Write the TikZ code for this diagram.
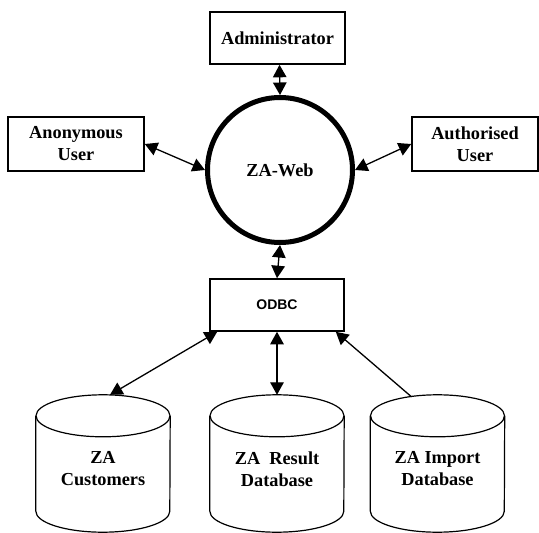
\documentclass[tikz,border=0pt]{standalone}
\usepackage{fontspec}
\setmainfont{Liberation Serif}
\newfontfamily\odbcfont{Liberation Sans}
\usetikzlibrary{arrows.meta,calc}

\tikzset{
  actor/.style={draw, rectangle, line width=1.6pt, inner sep=0pt, align=center,
    font=\fontsize{18.3}{22}\selectfont\bfseries},
  hub/.style={draw, circle, line width=5pt, minimum size=145pt, inner sep=0pt,
    font=\fontsize{18.3}{22}\selectfont\bfseries},
  store/.style={rectangle, inner sep=0pt, minimum width=134pt, minimum height=137pt},
  dblabel/.style={align=center, font=\fontsize{18.3}{22}\selectfont\bfseries},
  tip/.style={Triangle[length=12.5pt,width=13.5pt]},
  link/.style={line width=1.3pt, {Triangle[length=12.5pt,width=13.5pt]}-{Triangle[length=12.5pt,width=13.5pt]}},
  feed/.style={line width=1.3pt, -{Triangle[length=12.5pt,width=13.5pt]}},
  drum/.style={line width=1.2pt}
}

% outline of a database cylinder around a named store node
\newcommand{\drumoutline}[1]{%
  \draw[drum] ([yshift=-21pt]#1.north west) -- ([yshift=21pt]#1.south west)
    arc[start angle=180, end angle=360, x radius=67pt, y radius=21pt]
    -- ([yshift=-21pt]#1.north east);
  \draw[drum] ([yshift=-21pt]#1.north) ellipse[x radius=67pt, y radius=21pt];
}

\begin{document}
\begin{tikzpicture}[x=1pt, y=-1pt]
  \useasboundingbox (0,0) rectangle (539,533);

  \node[actor, minimum width=135pt, minimum height=52pt] (admin) at (277.5,38) {Administrator};
  \node[actor, minimum width=136pt, minimum height=54pt] (anon) at (76,144) {Anonymous\\User};
  \node[actor, minimum width=126pt, minimum height=54pt] (auth) at (475,144) {Authorised\\User};
  \node[hub] (web) at (280,170) {ZA-Web};
  \node[actor, minimum width=134pt, minimum height=52pt, font=\odbcfont\fontsize{14}{16}\selectfont\bfseries] (odbc) at (277,305) {ODBC};

  \node[store] (cust) at (103,463.5) {};
  \node[store] (result) at (277,463.5) {};
  \node[store] (import) at (437.5,463.5) {};
  \drumoutline{cust}
  \drumoutline{result}
  \drumoutline{import}

  \node[dblabel] (custlabel) at (103,469) {ZA\\Customers};
  \node[dblabel] (resultlabel) at (277,469) {ZA~ Result\\Database};
  \node[dblabel] (importlabel) at (437.5,469) {ZA Import\\Database};

  % connectors
  \draw[link] ([xshift=2pt]admin.south) -- (web.north);
  \draw[link] (anon.east) -- (web.west);
  \draw[link] (auth.west) -- (web.east);
  \draw[link] (web.south) -- (odbc.north);
  \draw[link] ([xshift=8pt]odbc.south west) -- ([xshift=7pt]cust.north);
  \draw[link] (odbc.south) -- (result.north);
  \draw[feed] ([xshift=-26pt,yshift=-2pt]import.north) -- ([xshift=-9pt]odbc.south east);
\end{tikzpicture}
\end{document}
